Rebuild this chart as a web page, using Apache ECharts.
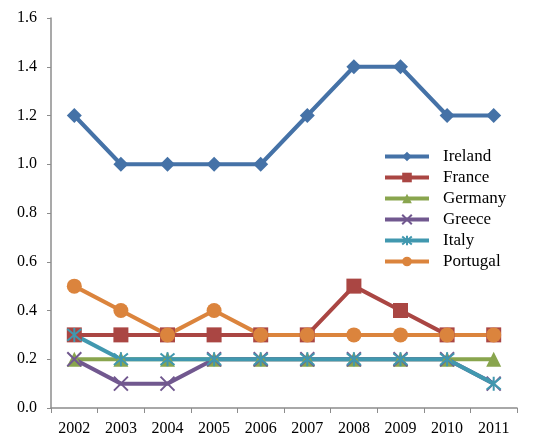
<!DOCTYPE html>
<html>
<head>
<meta charset="utf-8">
<script src="https://cdn.jsdelivr.net/npm/echarts@6/dist/echarts.min.js"></script>
<style>
  html, body { margin: 0; padding: 0; background: #fff; }
  #chart { width: 534px; height: 439px; }
</style>
</head>
<body>
<div id="chart"></div>
<script>
// 年份和各国数值
const years = ['2002', '2003', '2004', '2005', '2006', '2007', '2008', '2009', '2010', '2011']
const ireland = [1.2, 1.0, 1.0, 1.0, 1.0, 1.2, 1.4, 1.4, 1.2, 1.2]
const france = [0.3, 0.3, 0.3, 0.3, 0.3, 0.3, 0.5, 0.4, 0.3, 0.3]
const germany = [0.2, 0.2, 0.2, 0.2, 0.2, 0.2, 0.2, 0.2, 0.2, 0.2]
const greece = [0.2, 0.1, 0.1, 0.2, 0.2, 0.2, 0.2, 0.2, 0.2, 0.1]
const italy = [0.3, 0.2, 0.2, 0.2, 0.2, 0.2, 0.2, 0.2, 0.2, 0.1]
const portugal = [0.5, 0.4, 0.3, 0.4, 0.3, 0.3, 0.3, 0.3, 0.3, 0.3]

const font = '"Liberation Serif", "Times New Roman", serif'
const axisColor = '#8c8c8c'

const chart = echarts.init(document.getElementById('chart'))

// 每条线的公共样式
const mkSeries = (name, data, color, symbol, size, stroke) => ({
    name: name,
    type: 'line',
    data: data,
    symbol: symbol,
    symbolSize: size,
    showAllSymbol: true,
    lineStyle: { color: color, width: 4 },
    itemStyle: stroke
        ? { color: 'none', borderColor: color, borderWidth: 2 }
        : { color: color, borderWidth: 0 },
    emphasis: { disabled: true },
})

chart.setOption({
    animation: false,
    grid: { left: 51, right: 17, top: 18, bottom: 31 },
    legend: {
        orient: 'vertical',
        left: 378,
        top: 143,
        itemWidth: 44,
        itemHeight: 12,
        itemGap: 4,
        lineStyle: { width: 4 },
        textStyle: { fontFamily: font, fontSize: 17, color: '#000', padding: [0, 0, 0, 9] },
        data: ['Ireland', 'France', 'Germany', 'Greece', 'Italy', 'Portugal'],
    },
    xAxis: {
        type: 'category',
        data: years,
        boundaryGap: true,
        axisLine: { lineStyle: { color: axisColor, width: 1.5 } },
        axisTick: { show: true, length: 5, inside: false, lineStyle: { color: axisColor } },
        axisLabel: { fontFamily: font, fontSize: 16, color: '#000', margin: 13 },
    },
    yAxis: {
        type: 'value',
        min: 0,
        max: 1.6,
        interval: 0.2,
        splitLine: { show: false },
        axisLine: { show: true, lineStyle: { color: axisColor, width: 1.5 } },
        axisTick: { show: true, length: 4, lineStyle: { color: axisColor } },
        axisLabel: {
            fontFamily: font, fontSize: 16, color: '#000', margin: 14,
            formatter: v => v.toFixed(1),
        },
    },
    series: [
        mkSeries('Ireland', ireland, '#4572A7', 'diamond', 15),
        mkSeries('France', france, '#AA4643', 'rect', 15),
        mkSeries('Germany', germany, '#89A54E', 'triangle', 15),
        mkSeries('Greece', greece, '#71588F', 'path://M0,0L10,10M10,0L0,10', 14, true),
        mkSeries('Italy', italy, '#4198AF', 'path://M0,0L10,10M10,0L0,10M5,-1L5,11', 14, true),
        mkSeries('Portugal', portugal, '#DB843D', 'circle', 15),
    ],
})
</script>
</body>
</html>
